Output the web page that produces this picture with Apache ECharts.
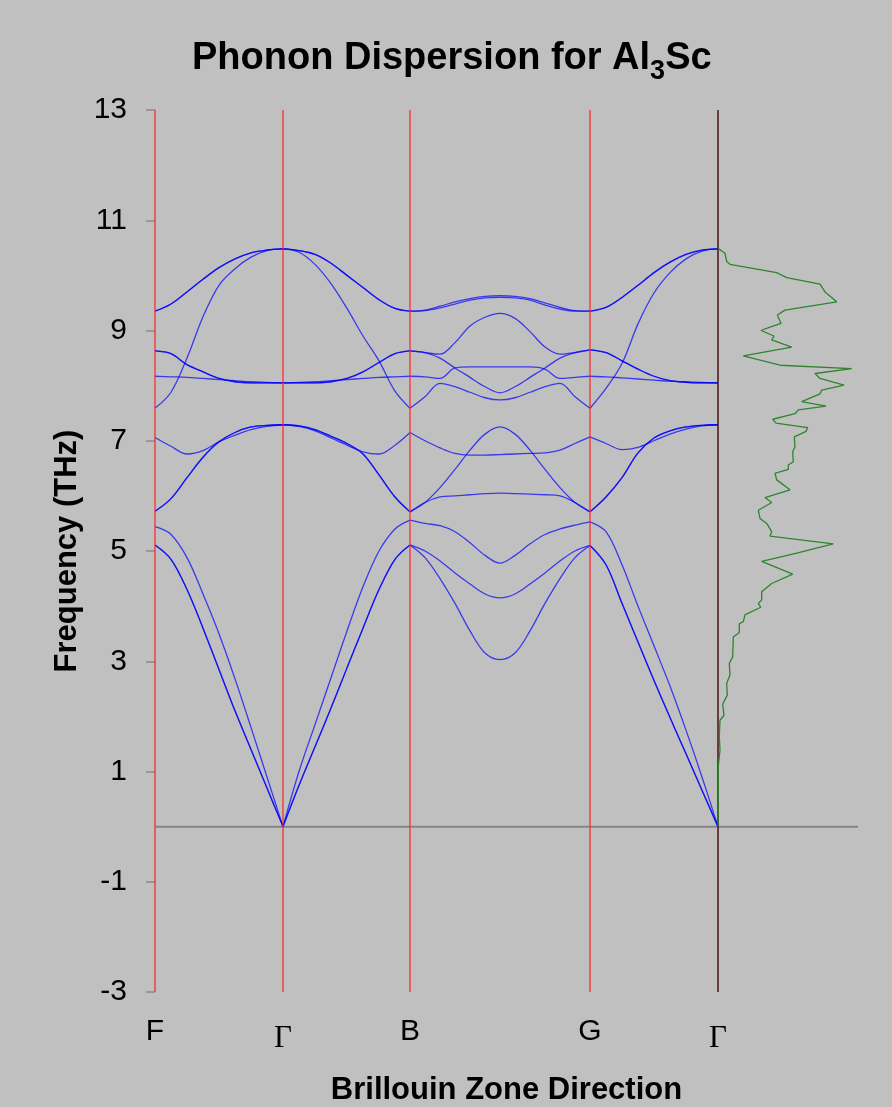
<!DOCTYPE html>
<html>
<head>
<meta charset="utf-8">
<script src="https://cdn.jsdelivr.net/npm/echarts@6/dist/echarts.min.js"></script>
<style>
  html, body { margin: 0; padding: 0; background: #c0c0c0; }
  #chart { width: 892px; height: 1107px; }
</style>
</head>
<body>
<div id="chart"></div>
<script>
// high-symmetry points along the path (path position units)
const symPoints = [0, 128, 255, 435, 563]
const symLabels = ['F', 'Γ', 'B', 'G', 'Γ']
const yTicks = [-3, -1, 1, 3, 5, 7, 9, 11, 13]

// F -> Γ
const kFG = [0, 16, 32, 48, 64, 80, 96, 112, 128]
const bandsFG = [
  [5.11, 4.85, 4.3, 3.6, 2.85, 2.1, 1.4, 0.7, 0],
  [5.11, 4.85, 4.3, 3.6, 2.85, 2.1, 1.4, 0.7, 0],
  [5.44, 5.3, 4.88, 4.22, 3.5, 2.68, 1.8, 0.9, 0],
  [5.72, 5.95, 6.33, 6.7, 6.98, 7.15, 7.25, 7.28, 7.29],
  [5.72, 5.95, 6.33, 6.7, 6.98, 7.15, 7.25, 7.28, 7.29],
  [7.06, 6.9, 6.76, 6.82, 6.98, 7.1, 7.2, 7.26, 7.29],
  [7.59, 7.88, 8.5, 9.25, 9.82, 10.12, 10.33, 10.45, 10.48],
  [8.17, 8.16, 8.15, 8.13, 8.11, 8.09, 8.07, 8.06, 8.05],
  [8.63, 8.58, 8.38, 8.25, 8.13, 8.07, 8.05, 8.05, 8.05],
  [8.63, 8.58, 8.38, 8.25, 8.13, 8.07, 8.05, 8.05, 8.05],
  [9.35, 9.48, 9.7, 9.93, 10.14, 10.3, 10.41, 10.46, 10.48],
  [9.35, 9.48, 9.7, 9.93, 10.14, 10.3, 10.41, 10.46, 10.48]
]

// Γ -> B
const kGB = [128, 144, 160, 176, 192, 208, 224, 240, 255]
const bandsGB = [
  [0, 0.75, 1.45, 2.15, 2.88, 3.6, 4.3, 4.85, 5.11],
  [0, 0.75, 1.45, 2.15, 2.88, 3.6, 4.3, 4.85, 5.11],
  [0, 1.0, 1.85, 2.7, 3.55, 4.35, 5.0, 5.4, 5.56],
  [7.29, 7.27, 7.2, 7.08, 6.95, 6.76, 6.38, 5.98, 5.71],
  [7.29, 7.27, 7.2, 7.08, 6.95, 6.76, 6.38, 5.98, 5.71],
  [7.29, 7.26, 7.18, 7.05, 6.92, 6.8, 6.76, 6.92, 7.15],
  [8.05, 8.06, 8.07, 8.09, 8.11, 8.13, 8.15, 8.16, 8.17],
  [8.05, 8.05, 8.05, 8.07, 8.13, 8.25, 8.42, 8.58, 8.63],
  [8.05, 8.05, 8.05, 8.07, 8.13, 8.25, 8.42, 8.58, 8.63],
  [10.48, 10.45, 10.38, 10.22, 10.0, 9.78, 9.56, 9.4, 9.35],
  [10.48, 10.45, 10.38, 10.22, 10.0, 9.78, 9.56, 9.4, 9.35],
  [10.48, 10.42, 10.2, 9.85, 9.4, 8.9, 8.45, 7.9, 7.59]
]

// B -> G
const kBG = [255, 270, 285, 300, 315, 330, 345, 360, 375, 390, 405, 420, 435]
const bandsBG = [
  [5.11, 4.88, 4.5, 4.05, 3.55, 3.15, 3.03, 3.15, 3.55, 4.05, 4.5, 4.88, 5.1],
  [5.11, 5.0, 4.82, 4.6, 4.4, 4.22, 4.15, 4.22, 4.4, 4.6, 4.82, 5.0, 5.1],
  [5.56, 5.5, 5.46, 5.35, 5.15, 4.92, 4.78, 4.92, 5.13, 5.3, 5.4, 5.47, 5.53],
  [5.71, 5.88, 5.98, 6.0, 6.02, 6.04, 6.05, 6.04, 6.03, 6.02, 6.0, 5.88, 5.71],
  [5.71, 5.88, 6.15, 6.48, 6.83, 7.12, 7.25, 7.12, 6.83, 6.48, 6.15, 5.88, 5.71],
  [7.15, 7.0, 6.87, 6.77, 6.74, 6.74, 6.75, 6.76, 6.77, 6.78, 6.83, 6.95, 7.07],
  [7.59, 7.8, 8.04, 7.98, 7.88, 7.78, 7.74, 7.78, 7.88, 7.98, 8.04, 7.8, 7.59],
  [8.17, 8.16, 8.13, 8.32, 8.34, 8.34, 8.34, 8.34, 8.34, 8.3, 8.13, 8.15, 8.17],
  [8.63, 8.6, 8.5, 8.32, 8.15, 7.98, 7.87, 7.98, 8.15, 8.32, 8.5, 8.6, 8.65],
  [8.63, 8.6, 8.57, 8.78, 9.08, 9.24, 9.31, 9.22, 8.98, 8.7, 8.57, 8.6, 8.65],
  [9.35, 9.36, 9.41, 9.48, 9.55, 9.59, 9.6, 9.59, 9.55, 9.46, 9.39, 9.35, 9.35],
  [9.35, 9.37, 9.44, 9.52, 9.58, 9.62, 9.63, 9.62, 9.58, 9.5, 9.42, 9.36, 9.35]
]

// G -> Γ
const kGG = [435, 451, 467, 483, 499, 515, 531, 547, 563]
const bandsGG = [
  [5.1, 4.75, 4.05, 3.35, 2.65, 1.98, 1.32, 0.66, 0],
  [5.1, 4.75, 4.05, 3.35, 2.65, 1.98, 1.32, 0.66, 0],
  [5.53, 5.35, 4.75, 4.0, 3.28, 2.55, 1.75, 0.9, 0],
  [5.71, 5.98, 6.33, 6.78, 7.05, 7.18, 7.25, 7.28, 7.29],
  [5.71, 5.98, 6.33, 6.78, 7.05, 7.18, 7.25, 7.28, 7.29],
  [7.07, 6.95, 6.84, 6.88, 7.0, 7.12, 7.21, 7.27, 7.29],
  [7.59, 7.95, 8.4, 9.12, 9.68, 10.05, 10.3, 10.44, 10.48],
  [8.17, 8.16, 8.14, 8.12, 8.1, 8.08, 8.07, 8.06, 8.05],
  [8.65, 8.6, 8.45, 8.3, 8.17, 8.09, 8.06, 8.05, 8.05],
  [8.65, 8.6, 8.45, 8.3, 8.17, 8.09, 8.06, 8.05, 8.05],
  [9.35, 9.42, 9.6, 9.82, 10.05, 10.24, 10.38, 10.46, 10.48],
  [9.35, 9.42, 9.6, 9.82, 10.05, 10.24, 10.38, 10.46, 10.48]
]

// phonon density of states (arbitrary units) vs frequency
const dosFreq = [
  10.49, 10.4, 10.25, 10.2, 10.05, 9.96, 9.84, 9.7, 9.52, 9.37, 9.28, 9.13, 9.06, 9.0,
  8.9, 8.83, 8.7, 8.54, 8.37, 8.31, 8.22, 8.13, 8.01, 7.92, 7.85, 7.71, 7.63, 7.56,
  7.49, 7.39, 7.32, 7.24, 7.17, 7.07, 6.89, 6.8, 6.62, 6.56, 6.48, 6.41, 6.29, 6.11,
  5.97, 5.88, 5.74, 5.59, 5.5, 5.35, 5.27, 5.13, 4.96, 4.81, 4.58, 4.41, 4.26, 4.11,
  4.05, 3.98, 3.84, 3.72, 3.68, 3.52, 3.44, 3.08, 2.96, 2.75, 2.6, 2.39, 2.22, 2.02,
  1.93, 1.63, 1.39, 1.09, 0.79, 0
]
const dosValue = [
  0, 7, 8.7, 12, 58.7, 68.7, 102, 107, 118.7, 67, 59.3, 63, 52, 43,
  56, 53.7, 73.7, 25.3, 62, 133.7, 97, 102, 126, 103.7, 102, 83.7, 108, 80.3,
  77, 54.7, 58, 89.7, 88, 76.3, 77, 74.7, 75.3, 70.3, 70.3, 57, 58.7, 72,
  47, 53.7, 40.3, 42, 48.7, 53.7, 52, 115.3, 78.7, 43.7, 74.7, 53.7, 43.7, 43.7,
  40.3, 42.7, 27, 25.3, 21.3, 21.3, 15.3, 14.7, 11.3, 12, 8.7, 9.3, 4.7, 6,
  2, 1.3, 2, 0.3, 0.3, 0
]

const FONT = '"Liberation Sans", Arial, Helvetica, sans-serif'
const Y_MIN = -3
const Y_MAX = 13
const X_MAX = 703

const chart = echarts.init(document.getElementById('chart'))

const series = []
const segments = [[kFG, bandsFG], [kGB, bandsGB], [kBG, bandsBG], [kGG, bandsGG]]
segments.forEach(([ks, bands]) => {
  bands.forEach(b => {
    series.push({
      type: 'line',
      xAxisIndex: 0,
      data: ks.map((k, i) => [k, b[i]]),
      smooth: 0.35,
      symbol: 'none',
      silent: true,
      z: 2,
      lineStyle: { color: 'rgba(0, 0, 255, 0.7)', width: 1.3 }
    })
  })
})

// zero line
series.push({
  type: 'line',
  xAxisIndex: 0,
  data: [[0, 0], [X_MAX, 0]],
  symbol: 'none',
  silent: true,
  z: 1,
  lineStyle: { color: '#858585', width: 2 }
})

// vertical lines at the high-symmetry points
symPoints.forEach((p, i) => {
  const last = i === symPoints.length - 1
  series.push({
    type: 'line',
    xAxisIndex: 0,
    data: [[p, Y_MIN], [p, Y_MAX]],
    symbol: 'none',
    silent: true,
    z: 3,
    lineStyle: { color: last ? '#4a1010' : '#ff2222', width: last ? 1.5 : 1.2 }
  })
})

series.push({
  type: 'line',
  xAxisIndex: 1,
  data: dosValue.map((v, i) => [v, dosFreq[i]]),
  symbol: 'none',
  silent: true,
  z: 4,
  lineStyle: { color: '#2e852e', width: 1.3 }
})

const option = {
  animation: false,
  backgroundColor: '#c0c0c0',
  title: {
    text: '{t|Phonon Dispersion for Al}{s|3}{t|Sc}',
    left: 192,
    top: 37,
    padding: 0,
    textStyle: {
      rich: {
        t: { fontSize: 38, fontWeight: 'bold', fontFamily: FONT, color: '#000', lineHeight: 44 },
        s: { fontSize: 27, fontWeight: 'bold', fontFamily: FONT, color: '#000', lineHeight: 27, padding: [26, 0, 0, 0] }
      }
    }
  },
  grid: { left: 155, right: 34, top: 110, bottom: 115, containLabel: false, outerBoundsMode: 'none' },
  xAxis: [
    {
      type: 'value',
      min: 0,
      max: X_MAX,
      axisLine: { show: false },
      axisTick: { show: false },
      splitLine: { show: false },
      axisLabel: {
        customValues: symPoints,
        margin: 25,
        fontSize: 30,
        fontFamily: FONT,
        color: '#000',
        formatter: v => {
          const s = symLabels[symPoints.indexOf(v)]
          return s === 'Γ' ? '{g|Γ}' : s
        },
        rich: {
          g: { fontFamily: '"Liberation Serif", "DejaVu Serif", serif', fontSize: 31, color: '#000', padding: [6, 0, 0, 0] }
        }
      },
      name: 'Brillouin Zone Direction',
      nameLocation: 'middle',
      nameGap: 83,
      nameTextStyle: { fontSize: 31, fontWeight: 'bold', fontFamily: FONT, color: '#000' }
    },
    {
      type: 'value',
      min: -563,
      max: 140,
      show: false,
      axisLine: { show: false },
      axisTick: { show: false },
      axisLabel: { show: false },
      splitLine: { show: false }
    }
  ],
  yAxis: {
    type: 'value',
    min: Y_MIN,
    max: Y_MAX,
    axisLine: { show: false },
    axisTick: { show: true, customValues: yTicks, length: 9, lineStyle: { color: '#8a8a8a', width: 1.5 } },
    splitLine: { show: false },
    axisLabel: {
      customValues: yTicks,
      margin: 28,
      fontSize: 30,
      fontFamily: FONT,
      color: '#000'
    },
    name: 'Frequency (THz)',
    nameLocation: 'middle',
    nameGap: 69,
    nameTextStyle: { fontSize: 31, fontWeight: 'bold', fontFamily: FONT, color: '#000' }
  },
  series
}

chart.setOption(option)
</script>
</body>
</html>
